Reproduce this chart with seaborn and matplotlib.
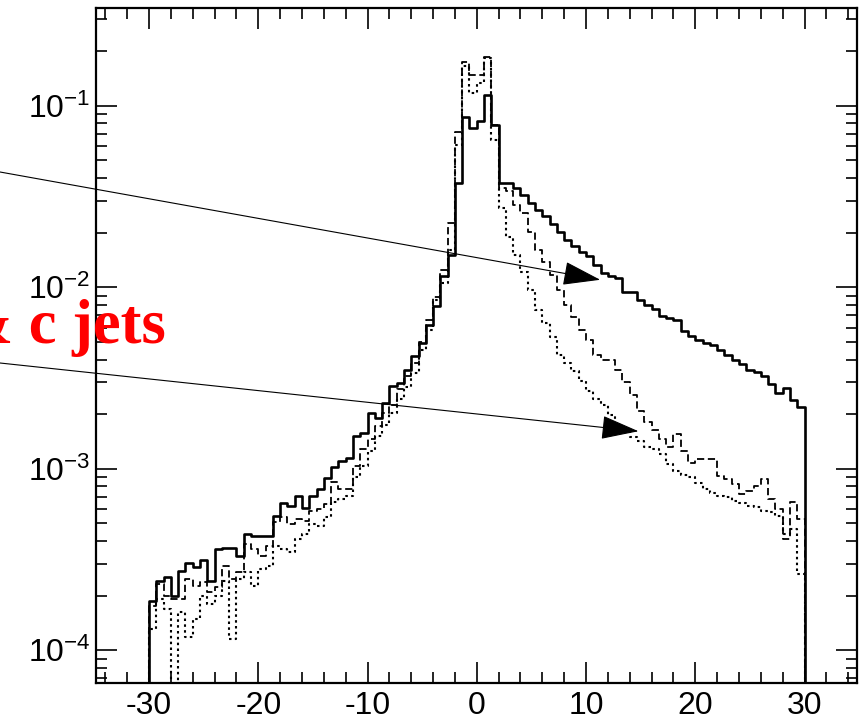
import numpy as np
import matplotlib
matplotlib.use("Agg")
import matplotlib.pyplot as plt
import seaborn as sns
from matplotlib.ticker import FixedLocator, MultipleLocator, LogLocator, NullFormatter

# Histogram binning: 90 equal bins between -30 and 30
x_min, x_max, n_bins = -30.0, 30.0, 90

# Normalised bin contents (one value per bin, left to right)
b_jets = [
    1.86e-4, 2.41e-4, 2.52e-4, 1.99e-4, 2.74e-4, 3.04e-4, 2.86e-4, 3.15e-4, 2.41e-4, 3.60e-4,
    3.68e-4, 3.68e-4, 3.31e-4, 4.36e-4, 4.26e-4, 4.26e-4, 4.26e-4, 5.50e-4, 6.50e-4, 6.24e-4,
    7.08e-4, 6.11e-4, 7.08e-4, 7.70e-4, 8.93e-4, 1.02e-3, 1.10e-3, 1.15e-3, 1.51e-3, 1.58e-3,
    2.04e-3, 1.91e-3, 2.31e-3, 2.85e-3, 2.98e-3, 3.52e-3, 4.17e-3, 4.94e-3, 6.23e-3, 7.86e-3,
    1.15e-2, 1.51e-2, 3.76e-2, 8.73e-2, 7.54e-2, 8.20e-2, 1.15e-1, 7.86e-2, 3.77e-2, 3.77e-2,
    3.54e-2, 3.24e-2, 2.92e-2, 2.68e-2, 2.48e-2, 2.24e-2, 2.03e-2, 1.83e-2, 1.68e-2, 1.57e-2,
    1.48e-2, 1.32e-2, 1.20e-2, 1.15e-2, 1.12e-2, 9.47e-3, 9.47e-3, 8.56e-3, 8.03e-3, 7.63e-3,
    6.99e-3, 6.81e-3, 6.64e-3, 5.78e-3, 5.42e-3, 5.15e-3, 4.96e-3, 4.78e-3, 4.54e-3, 4.21e-3,
    4.00e-3, 3.80e-3, 3.52e-3, 3.40e-3, 3.23e-3, 2.95e-3, 2.60e-3, 2.77e-3, 2.38e-3, 2.20e-3,
]

c_jets = [
    1.75e-4, 2.31e-4, 1.99e-4, 1.91e-4, 1.91e-4, 2.46e-4, 2.25e-4, 2.37e-4, 2.09e-4, 2.22e-4,
    2.90e-4, 2.46e-4, 2.69e-4, 3.84e-4, 3.60e-4, 3.30e-4, 3.74e-4, 5.07e-4, 5.40e-4, 4.94e-4,
    5.27e-4, 5.14e-4, 5.83e-4, 5.98e-4, 6.37e-4, 8.42e-4, 7.70e-4, 7.70e-4, 1.03e-3, 1.28e-3,
    1.45e-3, 1.71e-3, 2.04e-3, 2.26e-3, 2.74e-3, 3.23e-3, 3.85e-3, 5.02e-3, 6.64e-3, 8.89e-3,
    1.25e-2, 2.27e-2, 7.19e-2, 1.75e-1, 1.48e-1, 1.48e-1, 1.86e-1, 7.86e-2, 3.54e-2, 3.40e-2,
    2.85e-2, 2.58e-2, 2.03e-2, 1.61e-2, 1.37e-2, 1.17e-2, 9.70e-3, 8.03e-3, 6.90e-3, 5.85e-3,
    5.15e-3, 4.21e-3, 4.00e-3, 4.00e-3, 3.52e-3, 2.99e-3, 2.56e-3, 2.07e-3, 1.82e-3, 1.63e-3,
    1.45e-3, 1.31e-3, 1.55e-3, 1.25e-3, 1.07e-3, 1.13e-3, 1.13e-3, 1.13e-3, 9.08e-4, 8.75e-4,
    8.21e-4, 7.23e-4, 7.51e-4, 8.00e-4, 8.75e-4, 6.79e-4, 5.98e-4, 4.09e-4, 6.53e-4, 5.27e-4,
]

light_jets = [
    1.31e-4, 1.91e-4, 1.68e-4, 0.0, 1.62e-4, 1.18e-4, 1.48e-4, 1.99e-4, 1.79e-4, 1.99e-4,
    2.40e-4, 1.15e-4, 2.46e-4, 2.69e-4, 2.25e-4, 2.79e-4, 2.90e-4, 3.74e-4, 3.60e-4, 3.47e-4,
    4.09e-4, 4.35e-4, 4.94e-4, 4.82e-4, 5.40e-4, 6.53e-4, 6.79e-4, 7.05e-4, 8.97e-4, 1.03e-3,
    1.25e-3, 1.51e-3, 1.75e-3, 2.04e-3, 2.41e-3, 2.84e-3, 3.39e-3, 4.54e-3, 5.85e-3, 8.56e-3,
    1.06e-2, 1.61e-2, 6.10e-2, 1.66e-1, 1.18e-1, 1.34e-1, 1.84e-1, 6.50e-2, 2.75e-2, 1.90e-2,
    1.51e-2, 1.22e-2, 9.70e-3, 7.54e-3, 6.39e-3, 5.29e-3, 4.26e-3, 3.85e-3, 3.44e-3, 3.03e-3,
    2.67e-3, 2.41e-3, 2.26e-3, 1.99e-3, 1.71e-3, 1.59e-3, 1.49e-3, 1.42e-3, 1.31e-3, 1.28e-3,
    1.20e-3, 1.06e-3, 9.68e-4, 9.20e-4, 8.97e-4, 8.32e-4, 7.70e-4, 7.33e-4, 7.05e-4, 6.96e-4,
    6.62e-4, 6.45e-4, 6.21e-4, 6.13e-4, 5.83e-4, 5.75e-4, 5.47e-4, 4.35e-4, 4.64e-4, 2.62e-4,
]

x_ticks = [-30, -20, -10, 0, 10, 20, 30]
x_tick_labels = ["-30", "-20", "-10", "0", "10", "20", "30"]
y_ticks = [1e-4, 1e-3, 1e-2, 1e-1]
y_tick_labels = [r"$10^{-4}$", r"$10^{-3}$", r"$10^{-2}$", r"$10^{-1}$"]
label_text = "& c jets"

sns.set_theme(style="white")
plt.rcParams["font.family"] = ["Liberation Sans", "DejaVu Sans"]
plt.rcParams["mathtext.fontset"] = "custom"
plt.rcParams["mathtext.rm"] = "Liberation Sans"
plt.rcParams["mathtext.it"] = "Liberation Sans:italic"
plt.rcParams["mathtext.bf"] = "Liberation Sans:bold"
plt.rcParams["axes.unicode_minus"] = False

W, H = 859, 720
fig = plt.figure(figsize=(W / 100, H / 100), dpi=100)
ax = fig.add_axes([96 / W, 1 - 683 / H, 761 / W, 675 / H])

edges = np.linspace(x_min, x_max, n_bins + 1)


def outline(values):
    """Step outline of a histogram, closed down to zero at both ends."""
    xs = np.concatenate([[edges[0]], edges])
    ys = np.concatenate([[0.0], np.asarray(values, dtype=float), [0.0]])
    return xs, ys


series = [
    (b_jets, "-", 1.9),
    (c_jets, (0, (4, 2)), 1.3),
    (light_jets, (0, (1.2, 1.6)), 1.5),
]
for values, ls, lw in series:
    xs, ys = outline(values)
    sns.lineplot(x=xs, y=ys, ax=ax, estimator=None, sort=False,
                 drawstyle="steps-post", color="black", linewidth=lw,
                 linestyle=ls)

ax.set_yscale("log", nonpositive="clip")
ax.set_xlim(-34.85, 34.8)
ax.set_ylim(6.6e-5, 0.346)

ax.xaxis.set_major_locator(FixedLocator(x_ticks))
ax.set_xticklabels(x_tick_labels)
ax.xaxis.set_minor_locator(MultipleLocator(2))
ax.yaxis.set_major_locator(FixedLocator(y_ticks))
ax.set_yticklabels(y_tick_labels)
ax.yaxis.set_minor_locator(LogLocator(base=10, subs=np.arange(2, 10)))
ax.yaxis.set_minor_formatter(NullFormatter())

ax.tick_params(which="both", direction="in", top=True, right=True,
               bottom=True, left=True, labeltop=False, labelright=False,
               color="black", width=1.2, labelcolor="black")
ax.tick_params(which="major", length=15)
ax.tick_params(which="minor", length=8)
ax.tick_params(axis="x", which="major", pad=6, labelsize=23)
ax.tick_params(axis="y", which="major", pad=4, labelsize=23)
for sp in ax.spines.values():
    sp.set_visible(True)
    sp.set_color("black")
    sp.set_linewidth(1.6)
ax.set_xlabel("")
ax.set_ylabel("")

# Annotation text and arrows pointing at the curves
fig.text(166 / W, 377 / H, label_text, ha="right", va="baseline",
         color="red", fontsize=45, fontweight="bold",
         family=["Liberation Serif", "DejaVu Serif"])

arrow_kw = dict(arrowstyle="-|>,head_length=1.2,head_width=0.38",
                color="black", lw=0.8, shrinkA=0, shrinkB=0,
                mutation_scale=20)
ax.annotate("", xy=(11.3, 1.10e-2), xycoords="data",
            xytext=(0, 548 / H), textcoords="figure fraction",
            arrowprops=arrow_kw, annotation_clip=False)
ax.annotate("", xy=(14.8, 1.61e-3), xycoords="data",
            xytext=(0, 357 / H), textcoords="figure fraction",
            arrowprops=arrow_kw, annotation_clip=False)

fig.savefig("out.png", dpi=100)
